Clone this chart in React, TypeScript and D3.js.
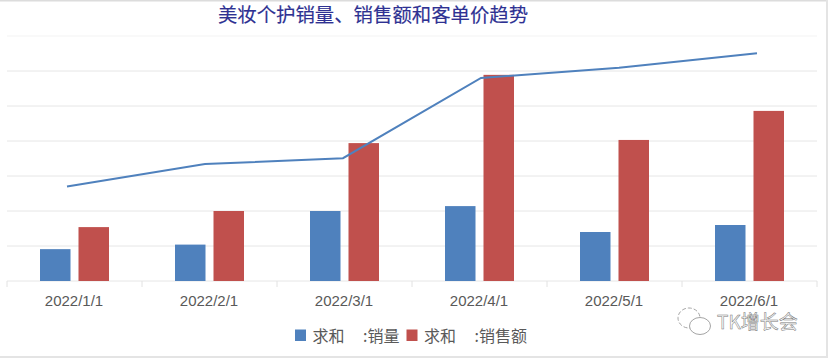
import React from "react";
import * as d3 from "d3";

const categories = ["2022/1/1", "2022/2/1", "2022/3/1", "2022/4/1", "2022/5/1", "2022/6/1"];
const salesVolume = [0.91, 1.04, 2.0, 2.14, 1.4, 1.6];
const salesAmount = [1.54, 2.0, 3.94, 5.89, 4.03, 4.86];
const avgPrice = [2.7, 3.34, 3.51, 5.8, 6.09, 6.51];
const gridValues = [0, 1, 2, 3, 4, 5, 6, 7];
const titleText = "美妆个护销量、销售额和客单价趋势";
const legendItems = [
  { label: "求和", suffix: ":销量", color: "#4f81bd" },
  { label: "求和", suffix: ":销售额", color: "#c0504d" },
];
const sans = "'Liberation Sans', 'Noto Sans CJK SC', sans-serif";
const cjk = "'Noto Sans CJK SC', sans-serif";

export default function App() {
  const x = d3.scaleBand<string>().domain(categories).range([7, 817]);
  const xLine = d3.scalePoint<string>().domain(categories).range([67, 757]);
  const y = d3.scaleLinear().domain([0, 7]).range([281, 36]);
  const barW = 30.5;
  const gap = 8;
  const cx = (c: string) => (x(c) as number) + x.bandwidth() / 2;
  const line = d3
    .line<number>()
    .x((_, i) => xLine(categories[i]) as number)
    .y((d) => y(d));
  const ticks = [...categories.map((c) => x(c) as number), 817];
  return (
    <svg
      width={828}
      height={358}
      style={{ position: "absolute", left: 0, top: 0, background: "#fff" }}
    >
      <rect x={0} y={0} width={828} height={1.5} fill="#dcdcdc" />
      <rect x={826} y={0} width={2} height={358} fill="#e4e4e4" />
      <rect x={0} y={356} width={828} height={2} fill="#e4e4e4" />
      {gridValues.map((v) => (
        <line
          key={v}
          x1={7}
          x2={817}
          y1={y(v)}
          y2={y(v)}
          stroke={v === 7 ? "#f3f3f3" : "#e6e6e6"}
          strokeWidth={1}
        />
      ))}
      {ticks.map((t) => (
        <line key={t} x1={t} x2={t} y1={281} y2={287} stroke="#e2e2e2" />
      ))}
      {categories.map((c, i) => (
        <g key={c}>
          <rect
            x={cx(c) - gap / 2 - barW}
            y={y(salesVolume[i])}
            width={barW}
            height={281 - y(salesVolume[i])}
            fill={legendItems[0].color}
          />
          <rect
            x={cx(c) + gap / 2}
            y={y(salesAmount[i])}
            width={barW}
            height={281 - y(salesAmount[i])}
            fill={legendItems[1].color}
          />
          <text
            x={cx(c) - 0.5}
            y={306}
            textAnchor="middle"
            fontFamily={sans}
            fontSize={15}
            fill="#595959"
          >
            {c}
          </text>
        </g>
      ))}
      <path d={line(avgPrice) as string} fill="none" stroke="#4f81bd" strokeWidth={2} />
      <text
        x={373}
        y={22}
        textAnchor="middle"
        fontFamily={cjk}
        fontSize={19.4}
        fill="#2e3192"
        stroke="#2e3192"
        strokeWidth={0.15}
      >
        {titleText}
      </text>
      {legendItems.map((it, i) => {
        const lx = 295 + i * 111.5;
        return (
          <g key={i} fontFamily={cjk} fontSize={16} fill="#595959">
            <rect x={lx} y={329.5} width={11} height={11.5} fill={it.color} />
            <text x={lx + 17.5} y={342}>{it.label}</text>
            <text x={lx + 68} y={342}>{it.suffix}</text>
          </g>
        );
      })}
      <g fill="none" stroke="#9a9a9a" strokeWidth={0.9}>
        <ellipse cx={689} cy={318} rx={11} ry={10} strokeDasharray="4 2" />
        <ellipse cx={700} cy={326} rx={10.5} ry={8.5} fill="#fff" />
      </g>
      <text
        x={717}
        y={329}
        fontFamily={cjk}
        fontSize={19}
        fill="#fff"
        stroke="#777"
        strokeWidth={0.5}
      >
        TK增长会
      </text>
    </svg>
  );
}
